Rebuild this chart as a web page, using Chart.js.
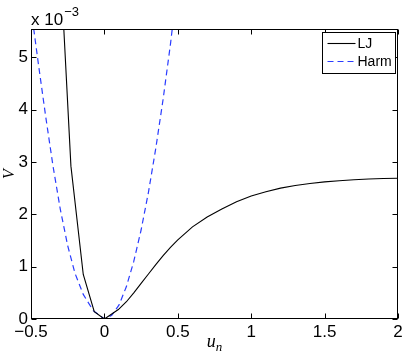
<!DOCTYPE html>
<html>
<head>
<meta charset="utf-8">
<script src="https://cdn.jsdelivr.net/npm/chart.js@4/dist/chart.umd.min.js"></script>
<style>
  html, body { margin: 0; padding: 0; background: #fff; }
  #wrap { width: 407px; height: 355px; }
</style>
</head>
<body>
<div id="wrap"><canvas id="c" width="407" height="355"></canvas></div>
<script>
// ---- data (V values are in units of 1e-3) ----
const ljU = [-0.305, -0.228, -0.144, -0.069, 0.0, 0.095, 0.15, 0.20, 0.25, 0.30, 0.35, 0.40, 0.45, 0.50, 0.60, 0.70, 0.80, 0.90, 1.00, 1.10, 1.20, 1.30, 1.40, 1.50, 1.60, 1.70, 1.80, 1.90, 2.00];
const ljV = [7.08, 2.92, 0.85, 0.14, 0.0, 0.18, 0.33, 0.50, 0.68, 0.86, 1.04, 1.21, 1.37, 1.51, 1.76, 1.95, 2.10, 2.24, 2.35, 2.43, 2.50, 2.55, 2.59, 2.62, 2.64, 2.66, 2.675, 2.685, 2.69];
const harmU = [-0.50, -0.45, -0.40, -0.35, -0.30, -0.25, -0.20, -0.144, -0.076, 0.0, 0.05, 0.10, 0.15, 0.20, 0.25, 0.30, 0.35, 0.40, 0.45, 0.50];
const harmV = [5.93, 4.88, 3.87, 2.92, 2.09, 1.40, 0.87, 0.47, 0.16, 0.0, 0.07, 0.27, 0.62, 1.10, 1.70, 2.42, 3.26, 4.20, 5.25, 6.45];
const seriesNames = ['LJ', 'Harm'];
const xTicks = [-0.5, 0, 0.5, 1, 1.5, 2];
const yTicks = [0, 1, 2, 3, 4, 5];
const xRange = [-0.5, 2];
const yRange = [0, 5.54];
const yExponentBase = 'x 10';
const yExponent = '\u22123';
const xLabel = 'u';
const xLabelSub = 'n';
const yLabel = 'V';

const toPts = (us, vs) => us.map((u, i) => ({ x: u, y: vs[i] }));
const fmt = v => (v < 0 ? '\u2212' + String(Math.abs(v)) : String(v));

const SANS = '"Liberation Sans", Arial, Helvetica, sans-serif';
const SERIF = '"Liberation Serif", "DejaVu Serif", serif';

const boxPlugin = {
  id: 'matlabBox',
  afterDatasetsDraw(chart) {
    const { ctx, chartArea: a, scales } = chart;
    const L = Math.round(a.left) + 0.5, R = Math.round(a.right) - 0.5;
    const T = Math.round(a.top) + 0.5, B = Math.round(a.bottom) - 0.5;
    ctx.save();
    ctx.strokeStyle = '#000';
    ctx.lineWidth = 1;
    ctx.strokeRect(L, T, R - L, B - T);
    const tl = 5;
    ctx.beginPath();
    xTicks.forEach(v => {
      const px = Math.round(scales.x.getPixelForValue(v)) + 0.5;
      ctx.moveTo(px, B); ctx.lineTo(px, B - tl);
      ctx.moveTo(px, T); ctx.lineTo(px, T + tl);
    });
    yTicks.forEach(v => {
      const py = Math.round(scales.y.getPixelForValue(v)) + 0.5;
      ctx.moveTo(L, py); ctx.lineTo(L + tl, py);
      ctx.moveTo(R, py); ctx.lineTo(R - tl, py);
    });
    ctx.stroke();

    // exponent label
    ctx.fillStyle = '#000';
    ctx.textBaseline = 'alphabetic';
    ctx.textAlign = 'left';
    ctx.font = '17px ' + SANS;
    ctx.fillText(yExponentBase, a.left, a.top - 4);
    const w = ctx.measureText(yExponentBase).width;
    ctx.font = '13px ' + SANS;
    ctx.fillText(yExponent, a.left + w + 1, a.top - 13);

    // x label u_n
    ctx.font = 'italic 18px ' + SERIF;
    const cx = (a.left + a.right) / 2;
    const wu = ctx.measureText(xLabel).width;
    ctx.font = 'italic 13px ' + SERIF;
    const wn = ctx.measureText(xLabelSub).width;
    const x0 = cx - (wu + wn) / 2;
    ctx.font = 'italic 18px ' + SERIF;
    ctx.fillText(xLabel, x0, 347);
    ctx.font = 'italic 13px ' + SERIF;
    ctx.fillText(xLabelSub, x0 + wu, 351);

    // legend
    const lw = 73, lh = 41;
    const lx = Math.round(a.right) - 3 - lw + 0.5, ly = Math.round(a.top) + 3 + 0.5;
    ctx.fillStyle = '#fff';
    ctx.fillRect(lx, ly, lw, lh);
    ctx.strokeStyle = '#000';
    ctx.lineWidth = 1;
    ctx.strokeRect(lx, ly, lw, lh);
    ctx.font = '14px ' + SANS;
    ctx.textBaseline = 'middle';
    chart.data.datasets.forEach((ds, i) => {
      const yy = ly + 11 + i * 18;
      ctx.save();
      ctx.strokeStyle = ds.borderColor;
      ctx.lineWidth = ds.borderWidth;
      ctx.setLineDash(ds.borderDash || []);
      ctx.beginPath();
      ctx.moveTo(lx + 5, yy); ctx.lineTo(lx + 33, yy);
      ctx.stroke();
      ctx.restore();
      ctx.fillStyle = '#000';
      ctx.fillText(ds.label, lx + 35, yy + 1);
    });
    ctx.restore();
  }
};

new Chart(document.getElementById('c'), {
  type: 'scatter',
  data: {
    datasets: [
      { label: seriesNames[0], data: toPts(ljU, ljV), showLine: true, borderColor: '#000000', borderWidth: 1.1, pointRadius: 0, tension: 0, fill: false },
      { label: seriesNames[1], data: toPts(harmU, harmV), showLine: true, borderColor: '#2a3cff', borderWidth: 1.2, borderDash: [6, 4], pointRadius: 0, tension: 0, fill: false }
    ]
  },
  options: {
    responsive: false,
    animation: false,
    devicePixelRatio: 1,
    layout: { padding: { left: 0, right: 9, top: 29, bottom: 0 } },
    plugins: { legend: { display: false }, tooltip: { enabled: false } },
    scales: {
      x: {
        type: 'linear', position: 'bottom', min: xRange[0], max: xRange[1],
        afterBuildTicks: s => { s.ticks = xTicks.map(v => ({ value: v })); },
        afterFit: s => { s.height = 36; },
        grid: { display: false, drawTicks: false },
        border: { display: false },
        ticks: { color: '#000', padding: 3, maxRotation: 0, autoSkip: false, font: { family: SANS, size: 17 }, callback: v => fmt(v) }
      },
      y: {
        type: 'linear', position: 'left', min: yRange[0], max: yRange[1],
        afterBuildTicks: s => { s.ticks = yTicks.map(v => ({ value: v })); },
        afterFit: s => { s.width = 31; },
        grid: { display: false, drawTicks: false },
        border: { display: false },
        ticks: { color: '#000', padding: 3, autoSkip: false, font: { family: SANS, size: 17 }, callback: v => fmt(v) },
        title: { display: true, text: yLabel, color: '#000', padding: { top: 0, bottom: 0 }, font: { family: SERIF, style: 'italic', size: 16 } }
      }
    }
  },
  plugins: [boxPlugin]
});
</script>
</body>
</html>
